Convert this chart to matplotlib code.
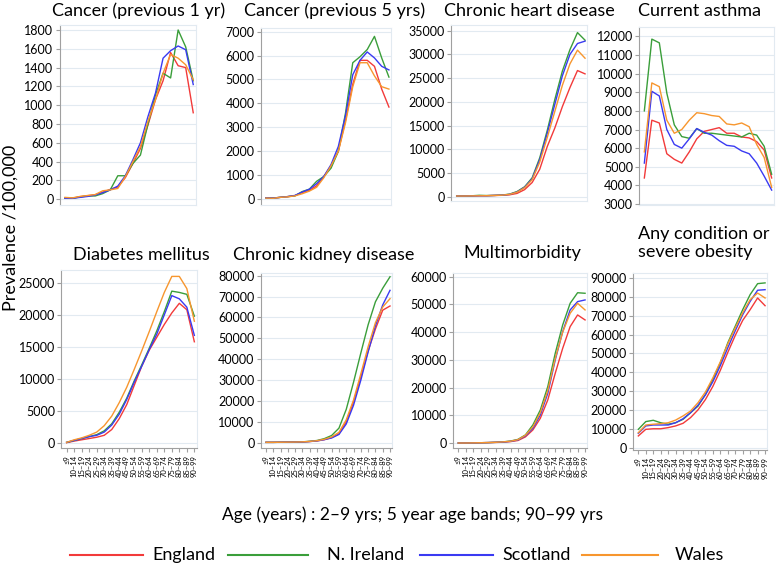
import matplotlib
matplotlib.use("Agg")
import matplotlib.pyplot as plt
from matplotlib.lines import Line2D

plt.rcParams["font.family"] = ["Lato", "DejaVu Sans"]

W, H = 777, 566

ages = ["≤9", "10–14", "15–19", "20–24", "25–29", "30–34", "35–39", "40–44", "45–49",
        "50–54", "55–59", "60–64", "65–69", "70–74", "75–79", "80–84", "85–89", "90–99"]
nations = ["England", "N. Ireland", "Scotland", "Wales"]
colors = {"England": "#F23A3A", "N. Ireland": "#3A9E3A", "Scotland": "#3A3AF2", "Wales": "#F7962E"}

cancer_1yr = {
    "England": [15, 12, 28, 38, 48, 75, 105, 130, 230, 380, 540, 790, 1060, 1260, 1560, 1420, 1400, 920],
    "N. Ireland": [10, 10, 25, 35, 35, 60, 100, 250, 250, 380, 470, 800, 1110, 1340, 1290, 1800, 1620, 1260],
    "Scotland": [10, 10, 20, 30, 45, 70, 100, 140, 250, 420, 600, 880, 1130, 1500, 1580, 1630, 1590, 1220],
    "Wales": [20, 15, 30, 40, 50, 90, 100, 115, 240, 400, 560, 830, 1060, 1340, 1540, 1500, 1430, 1270],
}
cancer_5yr = {
    "England": [60, 50, 80, 110, 150, 280, 370, 560, 950, 1400, 2000, 3300, 4800, 5800, 5800, 5550, 4600, 3850],
    "N. Ireland": [60, 50, 80, 110, 140, 320, 420, 750, 950, 1300, 2000, 3600, 5700, 5950, 6250, 6800, 5900, 5100],
    "Scotland": [60, 50, 80, 110, 160, 300, 420, 650, 950, 1450, 2200, 3500, 5200, 5800, 6150, 5900, 5550, 5400],
    "Wales": [50, 40, 80, 100, 140, 230, 340, 500, 900, 1400, 2000, 3200, 4700, 5700, 5700, 5150, 4700, 4600],
}
heart = {
    "England": [150, 150, 180, 200, 220, 260, 300, 400, 700, 1500, 3000, 5800, 10600, 14500, 19000, 23000, 26600, 25900],
    "N. Ireland": [150, 150, 200, 300, 250, 280, 350, 550, 1100, 2100, 4000, 8200, 14000, 20500, 26500, 31000, 34600, 33000],
    "Scotland": [150, 150, 180, 200, 220, 280, 330, 500, 1000, 2000, 3800, 7800, 13400, 19500, 25500, 30000, 32300, 32800],
    "Wales": [150, 150, 180, 200, 220, 270, 330, 500, 950, 1900, 3600, 7300, 12500, 18000, 23500, 28000, 30900, 29200],
}
asthma = {
    "England": [4400, 7500, 7350, 5700, 5400, 5200, 5800, 6500, 6900, 7000, 7100, 6800, 6800, 6600, 6550, 6350, 5900, 4400],
    "N. Ireland": [8000, 11850, 11650, 8950, 7250, 6620, 6530, 7050, 6800, 6800, 6750, 6700, 6650, 6600, 6800, 6700, 6100, 4600],
    "Scotland": [5200, 9050, 8800, 7000, 6200, 6000, 6500, 7050, 6850, 6700, 6400, 6150, 6100, 5850, 5700, 5200, 4500, 3750],
    "Wales": [5800, 9500, 9300, 7500, 6800, 7000, 7500, 7900, 7850, 7750, 7700, 7300, 7250, 7350, 7150, 6200, 5500, 3900],
}
diabetes = {
    "England": [50, 300, 500, 700, 900, 1200, 2100, 3800, 6000, 9000, 12000, 14500, 16500, 18500, 20300, 21800, 20800, 15800],
    "N. Ireland": [100, 400, 700, 1000, 1300, 1900, 3000, 4800, 7000, 9700, 12200, 14800, 17500, 20500, 23700, 23500, 23200, 19800],
    "Scotland": [100, 400, 700, 1000, 1200, 1700, 2800, 4500, 6800, 9500, 12000, 14600, 17000, 20000, 23000, 22500, 21200, 16800],
    "Wales": [100, 500, 800, 1200, 1700, 2700, 4200, 6300, 8700, 11500, 14400, 17400, 20500, 23500, 26000, 26000, 24100, 19000],
}
kidney = {
    "England": [200, 200, 250, 300, 350, 400, 600, 900, 1500, 2500, 4300, 10000, 19500, 31500, 44000, 54500, 63500, 65500],
    "N. Ireland": [200, 200, 250, 300, 350, 450, 700, 1100, 2000, 3500, 7000, 16000, 29000, 43000, 56500, 67500, 74000, 79500],
    "Scotland": [200, 200, 250, 300, 350, 400, 600, 900, 1500, 2300, 4000, 9000, 18000, 30000, 43500, 56000, 66000, 73000],
    "Wales": [200, 200, 250, 300, 350, 450, 650, 1000, 1700, 2800, 5000, 11000, 20500, 33000, 46000, 57500, 65000, 69000],
}
multimorbidity = {
    "England": [100, 100, 150, 200, 250, 300, 400, 600, 1000, 2300, 4800, 9000, 15600, 25200, 34200, 42000, 46200, 44400],
    "N. Ireland": [100, 100, 150, 200, 250, 350, 500, 800, 1400, 3000, 6600, 12000, 20400, 32400, 42600, 50400, 54200, 54000],
    "Scotland": [100, 100, 150, 200, 250, 350, 450, 700, 1200, 2700, 5400, 10200, 18000, 30000, 40200, 48000, 51000, 51600],
    "Wales": [100, 100, 150, 200, 250, 350, 500, 750, 1300, 2900, 5900, 11000, 19000, 30500, 40000, 46800, 50400, 48000],
}
any_condition = {
    "England": [6200, 9700, 10000, 10000, 10600, 11500, 12900, 15900, 20000, 25500, 32500, 41000, 50500, 59500, 67500, 73200, 79400, 75300],
    "N. Ireland": [9700, 13800, 14500, 13200, 12400, 13200, 15000, 18500, 22000, 28200, 36200, 45000, 55600, 64400, 73200, 81200, 87000, 87400],
    "Scotland": [7600, 11500, 12000, 12000, 12000, 13200, 15300, 18500, 22500, 28000, 35000, 43500, 53000, 62000, 70500, 77600, 83500, 83800],
    "Wales": [7900, 12000, 12400, 12700, 13200, 14600, 16800, 19400, 23800, 29500, 37000, 45500, 55000, 63500, 71500, 78500, 82000, 79400],
}

# panel: data, title, (left, top, width, bottom) in pixels, ylim, yticks
panels = [
    (cancer_1yr, "Cancer (previous 1 yr)", (59.7, 25, 135.8, 205), (-61, 1853), range(0, 1801, 200)),
    (cancer_5yr, "Cancer (previous 5 yrs)", (260.9, 28, 130.2, 205), (-240, 7150), range(0, 7001, 1000)),
    (heart, "Chronic heart disease", (451.4, 25, 135.9, 201), (-900, 36200), range(0, 35001, 5000)),
    (asthma, "Current asthma", (639.1, 27, 134.8, 205), (2950, 12500), range(3000, 12001, 1000)),
    (diabetes, "Diabetes mellitus", (61.4, 270, 135.2, 448), (-780, 27000), range(0, 25001, 5000)),
    (kidney, "Chronic kidney disease", (260.9, 273, 131.3, 448), (-2500, 81300), range(0, 80001, 10000)),
    (multimorbidity, "Multimorbidity", (453.1, 273, 134.2, 448), (-1700, 61300), range(0, 60001, 10000)),
    (any_condition, "Any condition or\nsevere obesity", (633.1, 273, 134.2, 450), (-1270, 92650), range(0, 90001, 10000)),
]
title_pos = [(139, 11), (335, 11), (529, 11), (700, 11), (141, 255), (324, 255), (522, 253), (638, 243)]

fig = plt.figure(figsize=(W / 100, H / 100), dpi=100)
x = range(len(ages))

for i, (data, title, (l, t, w, b), ylim, yticks) in enumerate(panels):
    ax = fig.add_axes([l / W, 1 - b / H, w / W, (b - t) / H])
    for n in nations:
        ax.plot(x, data[n], color=colors[n], lw=1.0)
    ax.set_xlim(-0.7, 17.3)
    ax.set_ylim(*ylim)
    ax.set_yticks(list(yticks))
    ax.yaxis.grid(True, color="#E2EAF1", lw=0.8)
    ax.set_axisbelow(True)
    for s in ["top", "right"]:
        ax.spines[s].set_color("#E2EAF1")
    ax.spines["left"].set_color("#A0A0A0")
    ax.tick_params(axis="y", length=3, width=0.8, color="#A0A0A0", pad=1.5, labelsize=9)
    if i < 4:
        ax.spines["bottom"].set_color("#E2EAF1")
        ax.set_xticks([])
    else:
        ax.spines["bottom"].set_color("#A0A0A0")
        ax.set_xticks(list(x))
        ax.set_xticklabels(ages, rotation=90, fontsize=5.5)
        ax.tick_params(axis="x", length=3, width=0.8, color="#A0A0A0", pad=2)
    tx, ty = title_pos[i]
    if i == 7:
        fig.text(tx / W, 1 - ty / H, title, ha="left", va="center", fontsize=13, linespacing=1.2)
    else:
        fig.text(tx / W, 1 - ty / H, title, ha="center", va="center", fontsize=13)

fig.text(11 / W, 1 - 228 / H, "Prevalence /100,000", rotation=90, ha="center", va="center", fontsize=13)
fig.text(413 / W, 1 - 515 / H, "Age (years) : 2–9 yrs; 5 year age bands; 90–99 yrs",
         ha="center", va="center", fontsize=12.5)

# legend laid out by hand to match the spacing of the original
legend_lines = [(70, 143), (228, 308), (420, 493), (582, 658)]
legend_text_x = [152, 327, 502, 675]
ly = 1 - 555 / H
for n, (x0, x1), tx in zip(nations, legend_lines, legend_text_x):
    fig.add_artist(Line2D([x0 / W, x1 / W], [ly, ly], transform=fig.transFigure, color=colors[n], lw=1.5))
    fig.text(tx / W, ly, n, ha="left", va="center", fontsize=13)

fig.savefig("out.png", dpi=100)
